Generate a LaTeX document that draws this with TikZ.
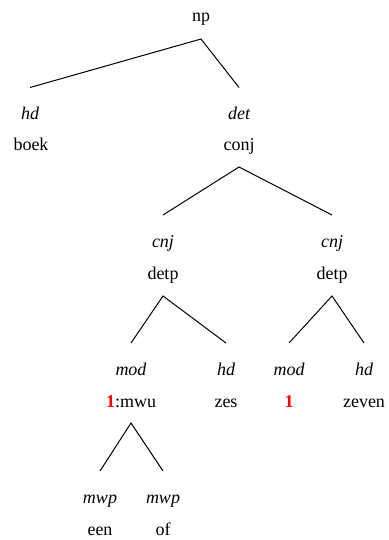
\documentclass[tikz,border=0pt]{standalone}
\usepackage{fontspec}
\setmainfont{Liberation Serif}
\begin{document}
\begin{tikzpicture}[x=1pt,y=-1pt,
  every node/.style={font=\fontsize{18}{20}\selectfont, inner sep=0pt, anchor=base},
  lbl/.style={font=\fontsize{18}{20}\selectfont\itshape},
  edge/.style={line width=1pt},
  idx/.style={text=red, font=\fontsize{18}{20}\selectfont\bfseries}]
\useasboundingbox (0,0) rectangle (388,540);
% nodes
\node (np) at (201,22) {np};
\node[lbl] (hd1) at (30,119.5) {hd};
\node (boek) at (31,151) {boek};
\node[lbl] (det) at (239,119.5) {det};
\node (conj) at (239,151) {conj};
\node[lbl] (cnj1) at (163,247.5) {cnj};
\node (detp1) at (163,279) {detp};
\node[lbl] (cnj2) at (332,247.5) {cnj};
\node (detp2) at (332,279) {detp};
\node[lbl] (mod1) at (131,375.5) {mod};
\node (mwu) at (131,407) {\textcolor{red}{\textbf{1}}:mwu};
\node[lbl] (hd2) at (226,375.5) {hd};
\node (zes) at (226,407) {zes};
\node[lbl] (mod2) at (289,375.5) {mod};
\node[idx] (one) at (289,407) {1};
\node[lbl] (hd3) at (364,375.5) {hd};
\node (zeven) at (364,407) {zeven};
\node[lbl] (mwp1) at (100,503.5) {mwp};
\node (een) at (100,535) {een};
\node[lbl] (mwp2) at (163,503.5) {mwp};
\node (of) at (163,535) {of};
% edges
\draw[edge] ([yshift=32pt]hd1.base) -- ([yshift=-17pt]np.base) -- ([yshift=32pt]det.base);
\draw[edge] ([yshift=32.5pt]cnj1.base) -- ([yshift=-16pt]conj.base) -- ([yshift=32.5pt]cnj2.base);
\draw[edge] ([yshift=32.5pt]mod1.base) -- ([yshift=-17pt]detp1.base) -- ([yshift=32.5pt]hd2.base);
\draw[edge] ([yshift=32.5pt]mod2.base) -- ([yshift=-17pt]detp2.base) -- ([yshift=32.5pt]hd3.base);
\draw[edge] ([yshift=32.5pt]mwp1.base) -- ([yshift=-16pt]mwu.base) -- ([yshift=32.5pt]mwp2.base);
\end{tikzpicture}
\end{document}
